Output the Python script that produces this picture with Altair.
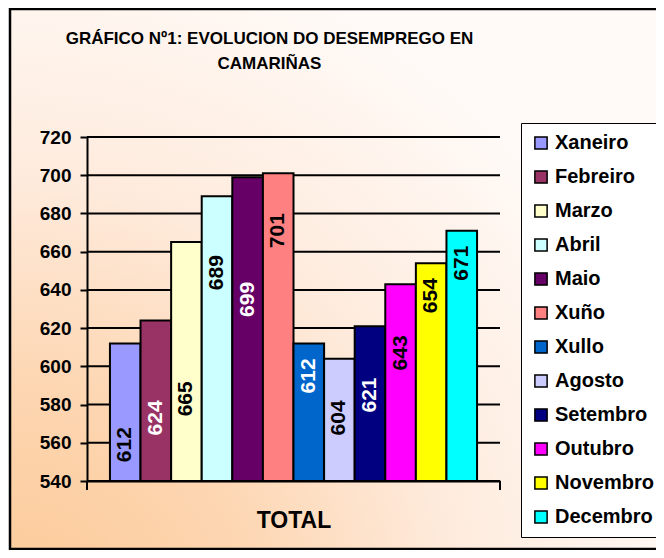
import altair as alt
import pandas as pd

title_lines = ["GRÁFICO Nº1: EVOLUCION DO DESEMPREGO EN", "CAMARIÑAS"]
x_title = "TOTAL"
months = ["Xaneiro", "Febreiro", "Marzo", "Abril", "Maio", "Xuño",
          "Xullo", "Agosto", "Setembro", "Outubro", "Novembro", "Decembro"]
values = [612, 624, 665, 689, 699, 701, 612, 604, 621, 643, 654, 671]
label_at = [559, 573, 583, 649, 635, 671, 595, 573, 585, 607, 637, 654]
bar_colors = ["#9999FF", "#993366", "#FFFFCC", "#CCFFFF", "#660066", "#FF8080",
              "#0066CC", "#CCCCFF", "#000080", "#FF00FF", "#FFFF00", "#00FFFF"]
white_labels = ["Febreiro", "Maio", "Xullo", "Setembro"]
y_ticks = [540, 560, 580, 600, 620, 640, 660, 680, 700, 720]

W, H = 413, 344
FONT = "Liberation Sans"

df = pd.DataFrame({"month": months, "value": values, "label_y": label_at})
grid_df = pd.DataFrame({"v": y_ticks})
one_df = pd.DataFrame({"k": [0]})

xscale = alt.Scale(domain=months, paddingInner=0, paddingOuter=0.75)
xaxis = alt.Axis(title=x_title, labels=False, ticks=False, domain=True,
                 domainColor="black", domainWidth=2,
                 titleFontSize=23, titleFont=FONT, titleFontWeight="bold",
                 titleColor="black", titlePadding=28, zindex=1, grid=False)
yscale = alt.Scale(domain=[540, 720], zero=False, nice=False)
yaxis = alt.Axis(values=y_ticks, title=None, grid=False, tickSize=7,
                 tickWidth=2, tickColor="black", domainColor="black",
                 domainWidth=2, labelFont=FONT, labelFontSize=19,
                 labelFontWeight="bold", labelColor="black",
                 labelPadding=9, labelOverlap=False, labelBound=False,
                 zindex=1)

background = alt.Chart(one_df).mark_rect(
    fill=alt.RadialGradient(
        gradient="radial",
        stops=[alt.GradientStop(color="#FCC894", offset=0),
               alt.GradientStop(color="#FDD6B2", offset=0.35),
               alt.GradientStop(color="#FEEBDD", offset=0.65),
               alt.GradientStop(color="#FFFAF7", offset=1)],
        x1=0, y1=1, r1=0, x2=0, y2=1, r2=1.0),
    stroke="black", strokeWidth=2.5
).encode(x=alt.value(-77), x2=alt.value(620), y=alt.value(-128), y2=alt.value(412))

grid = alt.Chart(grid_df).mark_rule(color="black", strokeWidth=2).encode(
    y=alt.Y("v:Q", scale=yscale, axis=yaxis),
    x=alt.value(0), x2=alt.value(W))

end_tick_left = alt.Chart(one_df).mark_rule(color="black", strokeWidth=2).encode(
    x=alt.value(0), y=alt.value(H), y2=alt.value(H + 9))
end_tick_right = alt.Chart(one_df).mark_rule(color="black", strokeWidth=2).encode(
    x=alt.value(W), y=alt.value(H), y2=alt.value(H + 9))

bars = alt.Chart(df).mark_bar(stroke="black", strokeWidth=2).encode(
    x=alt.X("month:N", sort=months, scale=xscale, axis=xaxis),
    y=alt.Y("value:Q", scale=yscale, axis=yaxis),
    y2=alt.datum(540),
    color=alt.Color("month:N", sort=months,
                    scale=alt.Scale(domain=months, range=bar_colors),
                    legend=alt.Legend(title=None, orient="none", legendX=434, legendY=-14,
                                      fillColor="white", strokeColor="black",
                                      padding=10, symbolType="square", symbolSize=150,
                                      symbolStrokeColor="black", symbolStrokeWidth=1.5,
                                      symbolOpacity=1,
                                      labelFont=FONT, labelFontSize=20,
                                      labelFontWeight="bold", labelColor="black",
                                      rowPadding=14, labelOffset=4, zindex=1)),
)

labels = alt.Chart(df).mark_text(angle=270, font=FONT, fontSize=21, fontWeight="bold",
                                 align="center", baseline="middle").encode(
    x=alt.X("month:N", sort=months, scale=xscale, axis=xaxis),
    y=alt.Y("label_y:Q", scale=yscale, axis=yaxis),
    text=alt.Text("value:Q"),
    color=alt.condition(alt.FieldOneOfPredicate(field="month", oneOf=white_labels),
                        alt.value("white"), alt.value("black")),
)

chart = alt.layer(background, grid, end_tick_left, end_tick_right, bars, labels).properties(
    width=W, height=H,
    autosize=alt.AutoSizeParams(type="none"),
    padding={"left": 79, "top": 129, "right": 156, "bottom": 69},
    title=alt.TitleParams(text=title_lines, font=FONT, fontSize=17,
                          fontWeight="bold", color="black", anchor="middle",
                          frame="group", offset=-65, dx=-24, lineHeight=25, zindex=1),
).configure_view(stroke=None).configure(background="white")

chart.save("out.html", embed_options={"renderer": "svg", "actions": False})
